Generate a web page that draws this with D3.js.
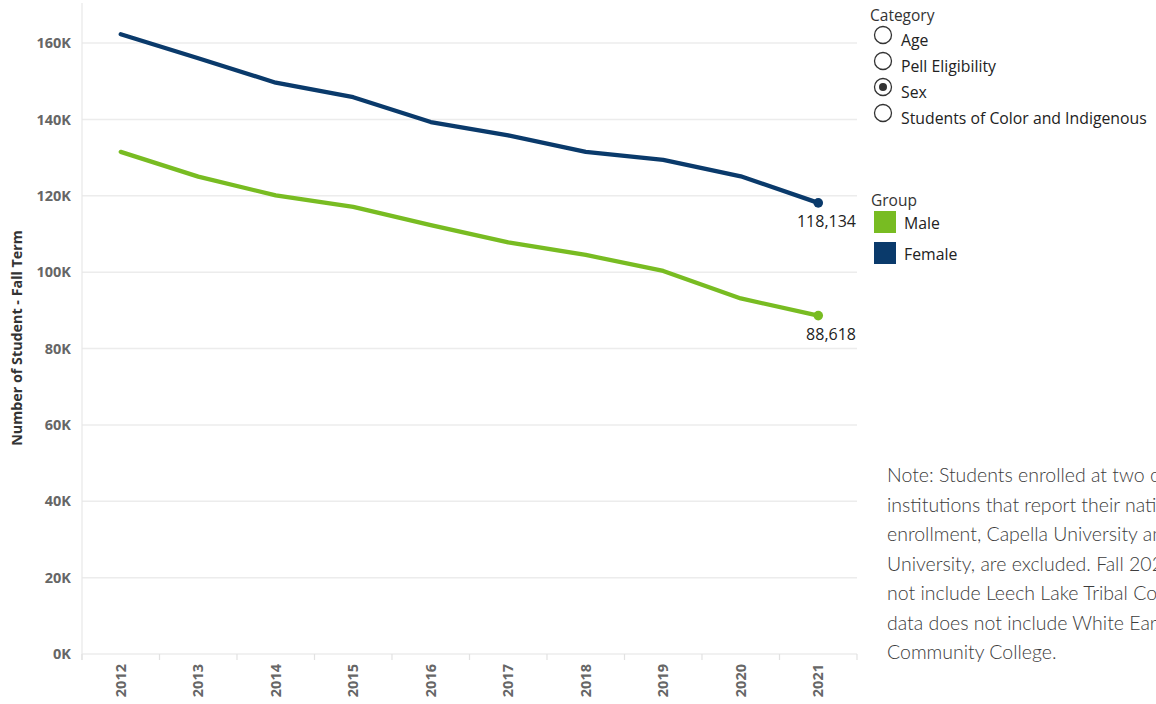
<!DOCTYPE html>
<html>
<head>
<meta charset="utf-8">
<script src="https://cdn.jsdelivr.net/npm/d3@7"></script>
<style>
  html, body { margin: 0; padding: 0; background: #fff; overflow: hidden; }
  svg { display: block; }
</style>
</head>
<body>
<svg id="chart" width="1156" height="704"></svg>
<script>
const years = [2012, 2013, 2014, 2015, 2016, 2017, 2018, 2019, 2020, 2021];
const femaleValues = [162300, 156000, 149600, 145800, 139300, 135800, 131500, 129400, 125100, 118134];
const maleValues = [131500, 125000, 120100, 117100, 112300, 107800, 104500, 100300, 93100, 88618];
const yTicks = [0, 20000, 40000, 60000, 80000, 100000, 120000, 140000, 160000];
const categoryOptions = ["Age", "Pell Eligibility", "Sex", "Students of Color and Indigenous"];
const selectedCategory = "Sex";
const groupNames = ["Male", "Female"];
const noteLines = [
  "Note: Students enrolled at two online",
  "institutions that report their national",
  "enrollment, Capella University and Walden",
  "University, are excluded. Fall 2020 data does",
  "not include Leech Lake Tribal College. Fall 2021",
  "data does not include White Earth Tribal and",
  "Community College."
];

const colors = { Male: "#78bc22", Female: "#0a3a6b" };
const font = "'Open Sans', 'Noto Sans', sans-serif";

const svg = d3.select("#chart");
const left = 82, right = 857, yZero = 654, yTop = 43;

const x = d3.scaleBand().domain(years).range([left, right]);
const y = d3.scaleLinear().domain([0, 160000]).range([yZero, yTop]);

// horizontal gridlines
svg.append("g").selectAll("line").data(yTicks).join("line")
  .attr("x1", left).attr("x2", right)
  .attr("y1", d => y(d)).attr("y2", d => y(d))
  .attr("stroke", "#ececec").attr("stroke-width", 1.5);

// vertical axis line
svg.append("line").attr("x1", left).attr("x2", left).attr("y1", 3).attr("y2", yZero + 6)
  .attr("stroke", "#e8e8e8").attr("stroke-width", 1.2);

// x tick marks at band boundaries
const bounds = years.map(d => x(d)).concat([right]);
svg.append("g").selectAll("line").data(bounds).join("line")
  .attr("x1", d => d).attr("x2", d => d)
  .attr("y1", yZero).attr("y2", yZero + 6)
  .attr("stroke", "#e2e2e2").attr("stroke-width", 1.2);

// y axis labels
const yAxis = d3.axisLeft(y).tickValues(yTicks).tickFormat(d => (d / 1000) + "K").tickSize(0).tickPadding(11);
const gy = svg.append("g").attr("transform", `translate(${left},0)`).call(yAxis);
gy.select(".domain").remove();
gy.selectAll("text").attr("font-family", font).attr("font-weight", "bold")
  .attr("font-size", 14.5).attr("fill", "#666");

// x axis labels (rotated)
const xAxis = d3.axisBottom(x).tickSize(0).tickPadding(0);
const gx = svg.append("g").attr("transform", `translate(0,${yZero})`).call(xAxis);
gx.select(".domain").remove();
gx.selectAll("text")
  .attr("font-family", font).attr("font-weight", "bold").attr("font-size", 14.5).attr("fill", "#666")
  .attr("transform", "rotate(-90)")
  .attr("text-anchor", "end")
  .attr("x", -10).attr("y", 0).attr("dy", "0.36em");

// y axis title
svg.append("text")
  .attr("transform", "translate(22,338) rotate(-90)")
  .attr("text-anchor", "middle")
  .attr("font-family", font).attr("font-weight", "bold").attr("font-size", 14.3).attr("fill", "#333")
  .text("Number of Student - Fall Term");

// lines
const series = [
  { name: "Male", values: maleValues },
  { name: "Female", values: femaleValues }
];
const line = d3.line()
  .x((d, i) => x(years[i]) + x.bandwidth() / 2)
  .y(d => y(d));

series.forEach(s => {
  svg.append("path").datum(s.values)
    .attr("d", line)
    .attr("fill", "none")
    .attr("stroke", colors[s.name])
    .attr("stroke-width", 4.3)
    .attr("stroke-linejoin", "round")
    .attr("stroke-linecap", "round");
  const last = s.values.length - 1;
  const cx = x(years[last]) + x.bandwidth() / 2;
  const cy = y(s.values[last]);
  svg.append("circle").attr("cx", cx).attr("cy", cy).attr("r", 4.8).attr("fill", colors[s.name]);
  svg.append("text")
    .attr("x", right - 1).attr("y", cy + 24)
    .attr("text-anchor", "end")
    .attr("font-family", font).attr("font-size", 16).attr("fill", "#222")
    .text(d3.format(",")(s.values[last]));
});

// Category legend
svg.append("text").attr("x", 870).attr("y", 21)
  .attr("font-family", font).attr("font-size", 15.5).attr("fill", "#333").text("Category");
categoryOptions.forEach((c, i) => {
  const cy = 35 + i * 26;
  svg.append("circle").attr("cx", 883).attr("cy", cy).attr("r", 8.5)
    .attr("fill", "#fff").attr("stroke", "#333").attr("stroke-width", 1.3);
  if (c === selectedCategory) {
    svg.append("circle").attr("cx", 883).attr("cy", cy).attr("r", 4).attr("fill", "#333");
  }
  svg.append("text").attr("x", 901).attr("y", cy + 11)
    .attr("font-family", font).attr("font-size", 15.8).attr("fill", "#222").text(c);
});

// Group legend
svg.append("text").attr("x", 871).attr("y", 206)
  .attr("font-family", font).attr("font-size", 15.5).attr("fill", "#333").text("Group");
groupNames.forEach((g, i) => {
  const top = 211 + i * 31;
  svg.append("rect").attr("x", 874).attr("y", top).attr("width", 22).attr("height", 22)
    .attr("fill", colors[g]);
  svg.append("text").attr("x", 904).attr("y", top + 18)
    .attr("font-family", font).attr("font-size", 15.8).attr("fill", "#222").text(g);
});

// Note
svg.append("g").selectAll("text").data(noteLines).join("text")
  .attr("x", 887).attr("y", (d, i) => 482 + i * 29.5)
  .attr("font-family", "Lato, 'Noto Sans', sans-serif").attr("font-weight", 300)
  .attr("font-size", 19.5).attr("fill", "#3c3c3c")
  .text(d => d);
</script>
</body>
</html>
